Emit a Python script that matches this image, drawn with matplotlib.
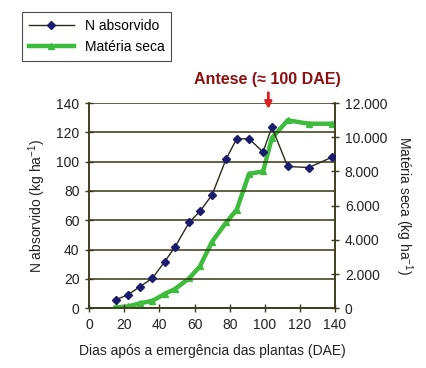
import numpy as np
import matplotlib.pyplot as plt
from matplotlib.ticker import FuncFormatter

plt.rcParams['font.family'] = ['Liberation Sans', 'DejaVu Sans']

# ---------------------------------------------------------------------------
# data
# ---------------------------------------------------------------------------
dias = [15, 22, 29, 36, 43, 49, 57, 63, 70, 78, 84, 91, 99, 104, 113, 125, 138]
n_absorvido = [5.7, 9.1, 14.8, 20.5, 31.8, 42.1, 58.7, 66.0, 77.4, 102.0,
               115.6, 115.6, 106.6, 123.6, 96.7, 96.0, 102.9]
materia_seca = [50, 100, 290, 430, 840, 1130, 1760, 2440, 3900, 5020,
                5760, 7860, 8000, 9950, 10990, 10790, 10790]

x_ticks = [0, 20, 40, 60, 80, 100, 120, 140]
y_left_ticks = [0, 20, 40, 60, 80, 100, 120, 140]
y_right_ticks = [0, 2000, 4000, 6000, 8000, 10000, 12000]

AXIS_COL = '#3d3a1a'
GRID_COL = '#3a3612'
GREEN = '#3dbb3d'
NAVY = '#1c1c6e'
DARKRED = '#8c1010'

fig = plt.figure(figsize=(4.26, 3.68), dpi=100)
ax = fig.add_axes([0.2095, 0.1625, 0.577, 0.5575])
ax2 = ax.twinx()

# gridlines (left axis based)
for y in y_left_ticks:
    ax.axhline(y, color=GRID_COL, lw=1.1, zorder=1)

l1, = ax.plot(dias, n_absorvido, color='#2a2a1a', lw=1.0, marker='D',
              markersize=4.5, markerfacecolor=NAVY, markeredgecolor=NAVY,
              zorder=4, label='N absorvido')
l2, = ax2.plot(dias, materia_seca, color=GREEN, lw=3.2, marker='^',
               markersize=4.5, markerfacecolor=GREEN, markeredgecolor=GREEN,
               zorder=3, label='Matéria seca')

ax.set_zorder(ax2.get_zorder() + 1)
ax.patch.set_visible(False)

ax.set_xlim(0, 140)
ax.set_ylim(0, 140)
ax2.set_ylim(0, 12000)
ax.set_xticks(x_ticks)
ax.set_yticks(y_left_ticks)
ax2.set_yticks(y_right_ticks)
ax2.yaxis.set_major_formatter(
    FuncFormatter(lambda v, p: f"{int(v):,}".replace(',', '.')))

for a in (ax, ax2):
    for s in a.spines.values():
        s.set_color(AXIS_COL)
        s.set_linewidth(1.1)
    a.spines['top'].set_visible(False)
    a.tick_params(direction='inout', length=6, width=1.0, color=AXIS_COL,
                  labelsize=10, labelcolor='#222222', pad=4)

ax.set_xlabel('Dias após a emergência das plantas (DAE)', fontsize=10,
              color='#222222', labelpad=9)
ax.set_ylabel('N absorvido (kg ha$^{\\mathregular{-1}}$)', fontsize=10,
              color='#222222', labelpad=6)
ax2.set_ylabel('Matéria seca (kg ha$^{\\mathregular{-1}}$)', fontsize=10,
               color='#222222', rotation=-90, labelpad=20)

# Antese marker
fig.text(0.627, 0.785, 'Antese (\u2248 100 DAE)', fontsize=11.5,
         fontweight='bold', color=DARKRED, ha='center', va='center')
ax.annotate('', xy=(102, 134), xytext=(102, 149),
            arrowprops=dict(arrowstyle='-|>', color='#e02020', lw=2,
                            mutation_scale=10),
            annotation_clip=False)

leg = fig.legend(handles=[l1, l2], loc='upper left',
                 bbox_to_anchor=(0.052, 0.967), borderaxespad=0,
                 fontsize=10, frameon=True, fancybox=False,
                 edgecolor='#222222', handlelength=3.2,
                 borderpad=0.5, labelspacing=0.5)
leg.get_frame().set_linewidth(0.8)

plt.savefig('out.png', dpi=100)
